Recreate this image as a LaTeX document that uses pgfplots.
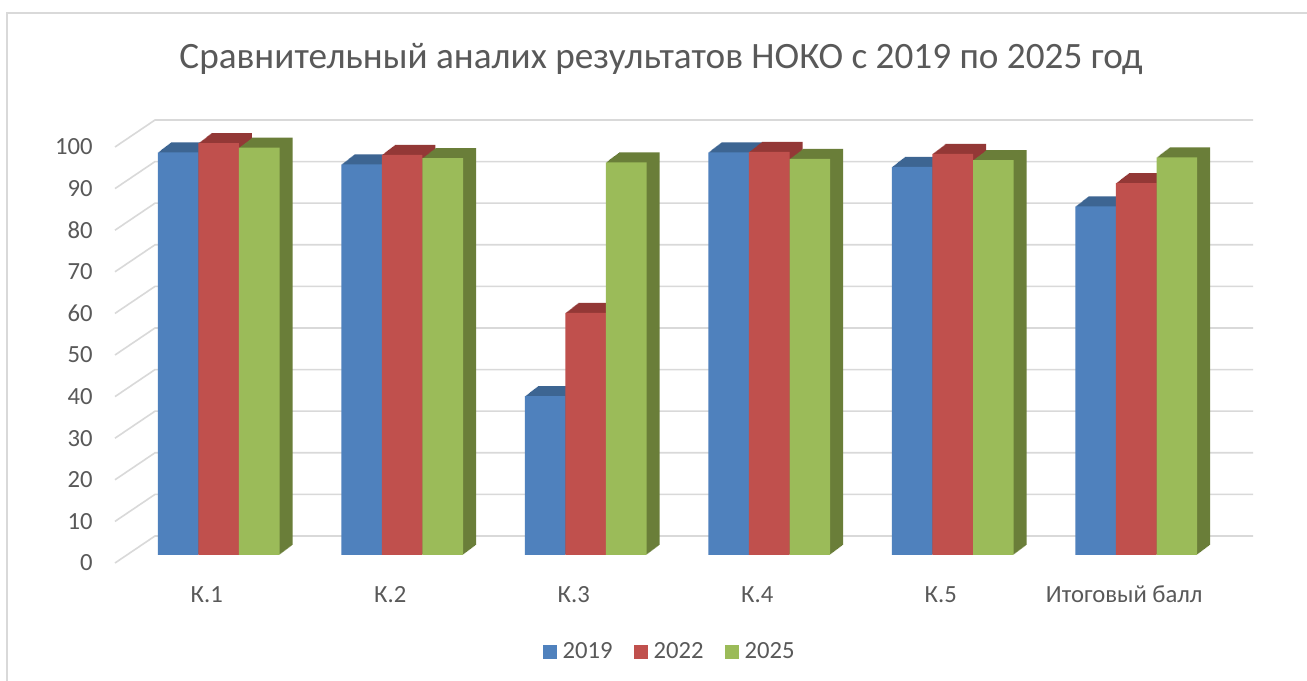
\documentclass[border=0pt]{standalone}
\usepackage{fontspec}
\setmainfont{Carlito}
\usepackage{pgfplots}
\usepackage{pgfplotstable}
\pgfplotsset{compat=1.18}
\newdimen\pu \pu=0.75pt
\definecolor{txt}{HTML}{595959}
\definecolor{gridc}{HTML}{D9D9D9}
\definecolor{blueF}{HTML}{4F81BD}
\definecolor{redF}{HTML}{C0504D}
\definecolor{greenF}{HTML}{9BBB59}
\definecolor{blueD}{HTML}{3D6592}
\definecolor{redD}{HTML}{933836}
\definecolor{greenD}{HTML}{6A7E39}

\pgfplotstableread{
x y
0 96.8
1 93.9
2 38.2
3 96.8
4 93.3
5 83.8
}\tblA
\pgfplotstableread{
x y
0 99.0
1 96.2
2 58.2
3 96.9
4 96.4
5 89.4
}\tblB
\pgfplotstableread{
x y
0 97.9
1 95.4
2 94.4
3 95.2
4 94.9
5 95.6
}\tblC

\begin{document}
\begin{tikzpicture}
\fill[white] (0,0) rectangle (1307\pu,681\pu);
\draw[gridc, line width=1.4pt] (7\pu,-5\pu) -- (7\pu,668\pu) -- (1320\pu,668\pu);
\node[text=txt, font=\fontsize{27.9}{33}\selectfont, anchor=base, inner sep=0pt] at (661\pu,612\pu) {Сравнительный аналих результатов НОКО с 2019 по 2025 год};
\begin{axis}[
  at={(127\pu,126\pu)}, anchor=south west,
  scale only axis, width=1101\pu, height=416\pu,
  ybar, bar width=40.5\pu,
  xmin=-0.5, xmax=5.5, ymin=0, ymax=100,
  clip=false,
  axis line style={draw=none},
  major tick length=0pt,
  xtick={0,...,5},
  xticklabels={К.1,К.2,К.3,К.4,К.5,Итоговый балл},
  ytick={0,10,...,100},
  /pgf/number format/assume math mode=true,
  tick label style={font=\fontsize{18.5}{22}\selectfont, text=txt, inner sep=0pt},
  yticklabel style={anchor=east, xshift=-34\pu, yshift=-8\pu},
  xticklabel style={anchor=base, xshift=-12\pu, yshift=-48\pu},
  legend style={at={(0.492,-0.233)}, anchor=center, draw=none, fill=none,
    legend columns=-1, font=\fontsize{18.5}{22}\selectfont, text=txt,
    nodes={inner sep=0pt},
    /tikz/every odd column/.append style={column sep=4.5pt},
    /tikz/every even column/.append style={column sep=15.75pt}},
  legend image code/.code={\fill[#1,draw=none] (0pt,-5.25pt) rectangle (10.5pt,5.25pt);},
]
\pgfplotsinvokeforeach{0,10,...,100}{
  \draw[gridc, line width=1.2pt] ([xshift=-12\pu,yshift=-8\pu]axis cs:-0.5,#1) -- ([xshift=28\pu,yshift=19\pu]axis cs:-0.5,#1) -- ([xshift=25\pu,yshift=19\pu]axis cs:5.5,#1);
}
% 2019
\pgfplotsinvokeforeach{1,...,13}{
  \addplot[forget plot, fill=blueD, draw=none, bar shift=-40.5\pu, xshift=#1*0.75pt, yshift=#1*0.577pt] table[x=x,y=y]{\tblA};
}
\addplot[fill=blueF, draw=none, bar shift=-40.5\pu] table[x=x,y=y]{\tblA};
\addlegendentry{2019}
% 2022
\pgfplotsinvokeforeach{1,...,13}{
  \addplot[forget plot, fill=redD, draw=none, bar shift=0pt, xshift=#1*0.75pt, yshift=#1*0.577pt] table[x=x,y=y]{\tblB};
}
\addplot[fill=redF, draw=none, bar shift=0pt] table[x=x,y=y]{\tblB};
\addlegendentry{2022}
% 2025
\pgfplotsinvokeforeach{1,...,13}{
  \addplot[forget plot, fill=greenD, draw=none, bar shift=40.5\pu, xshift=#1*0.75pt, yshift=#1*0.577pt] table[x=x,y=y]{\tblC};
}
\addplot[fill=greenF, draw=none, bar shift=40.5\pu] table[x=x,y=y]{\tblC};
\addlegendentry{2025}
\end{axis}
\pgfresetboundingbox
\path[use as bounding box] (0,0) rectangle (1307\pu,681\pu);
\end{tikzpicture}
\end{document}
